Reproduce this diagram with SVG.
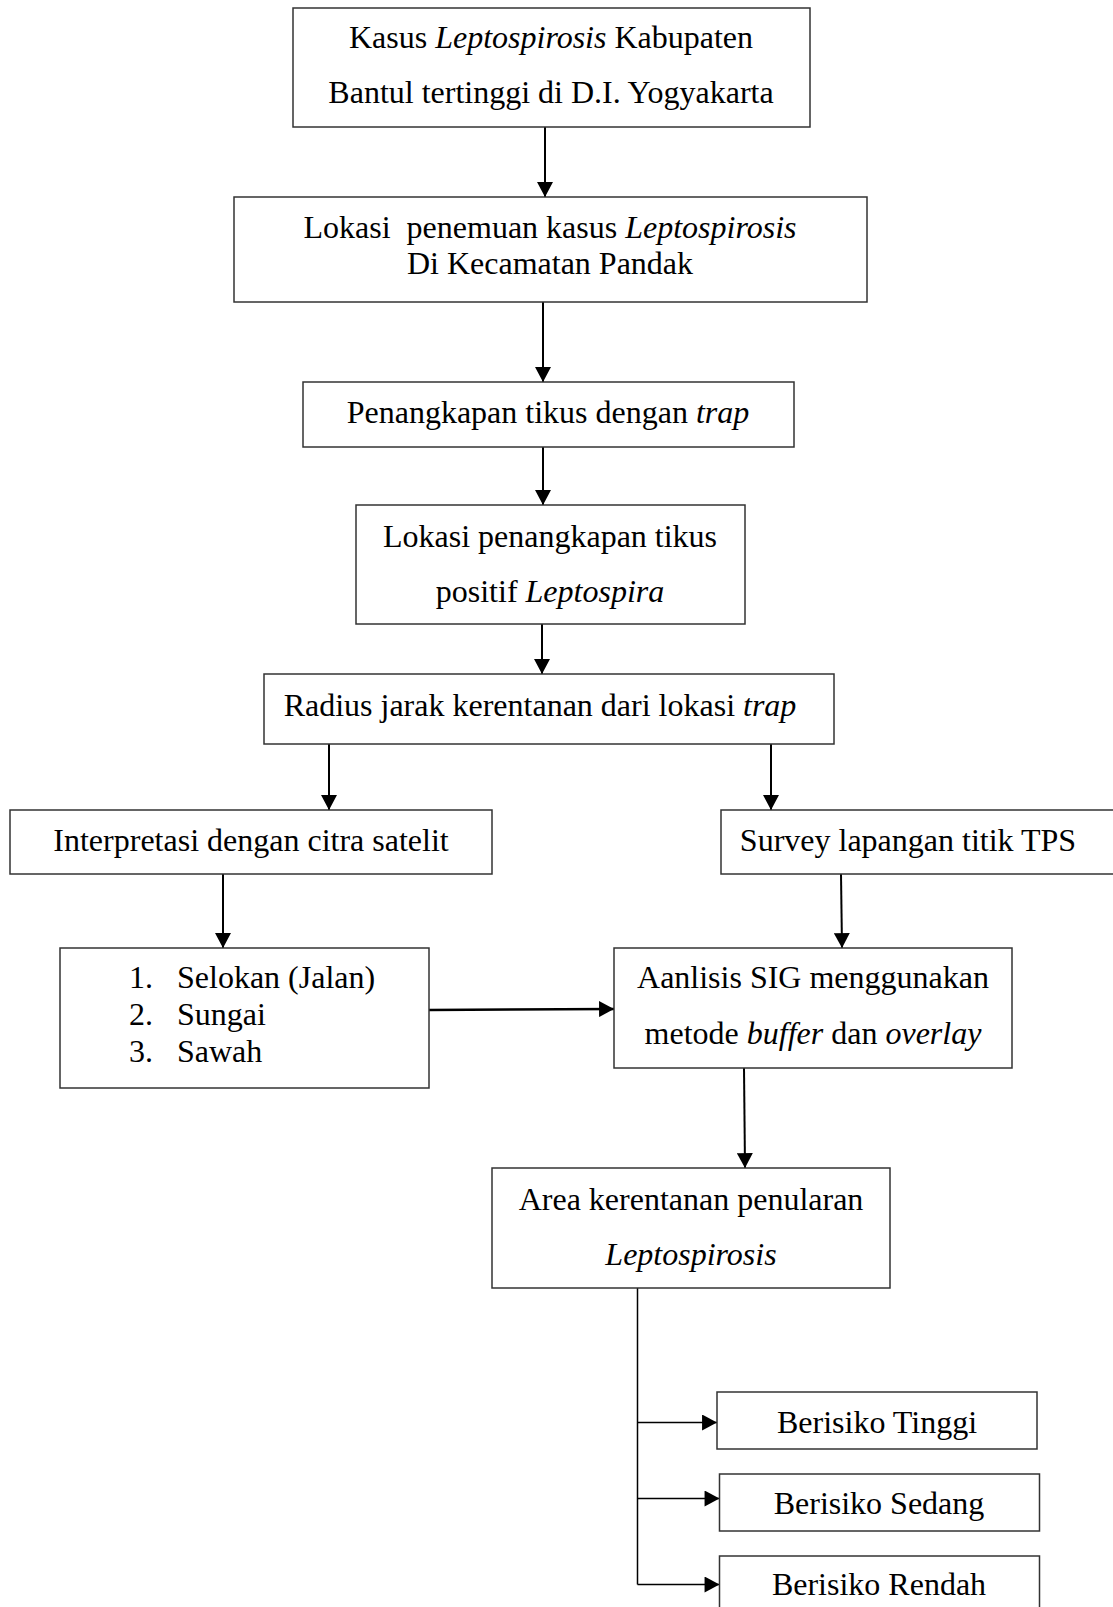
<svg xmlns="http://www.w3.org/2000/svg" width="1113" height="1607" viewBox="0 0 1113 1607">
<style>
.box{fill:#fff;stroke:#333;stroke-width:1.5}
.t{font-family:"Liberation Serif","Times New Roman",serif;font-size:32px;fill:#000}
.c{text-anchor:middle}
.i{font-style:italic}
.ln{fill:none;stroke:#000;stroke-width:2}
.thin{fill:none;stroke:#000;stroke-width:1.5}
</style>
<defs>
<marker id="ah" markerUnits="userSpaceOnUse" markerWidth="16" markerHeight="16" viewBox="0 0 14 15" refX="14" refY="7.5" orient="auto">
<path d="M0,0 L14,7.5 L0,15 Z" fill="#000"/>
</marker>
</defs>
<rect width="1113" height="1607" fill="#fff"/>
<g id="connectors">
<line class="ln" x1="545" y1="127" x2="545" y2="197" marker-end="url(#ah)"/>
<line class="ln" x1="543" y1="302" x2="543" y2="382" marker-end="url(#ah)"/>
<line class="ln" x1="543" y1="447" x2="543" y2="505" marker-end="url(#ah)"/>
<line class="ln" x1="542" y1="624" x2="542" y2="674" marker-end="url(#ah)"/>
<line class="ln" x1="329" y1="744" x2="329" y2="810" marker-end="url(#ah)"/>
<line class="ln" x1="771" y1="744" x2="771" y2="810" marker-end="url(#ah)"/>
<line class="ln" x1="223" y1="874" x2="223" y2="948" marker-end="url(#ah)"/>
<line class="ln" x1="841" y1="874" x2="842" y2="948" marker-end="url(#ah)"/>
<line class="ln" x1="429" y1="1010" x2="614" y2="1009" marker-end="url(#ah)" style="stroke-width:2.5"/>
<line class="ln" x1="744" y1="1068" x2="745" y2="1168" marker-end="url(#ah)"/>
<polyline class="thin" points="637.5,1288 637.5,1584.5"/>
<line class="thin" x1="637.5" y1="1422.5" x2="717" y2="1422.5" marker-end="url(#ah)"/>
<line class="thin" x1="637.5" y1="1498.5" x2="719.5" y2="1498.5" marker-end="url(#ah)"/>
<line class="thin" x1="637.5" y1="1584.5" x2="719.5" y2="1584.5" marker-end="url(#ah)"/>
</g>
<g id="n1">
<rect class="box" x="293" y="8" width="517" height="119"/>
<text class="t c" x="551" y="48">Kasus <tspan class="i">Leptospirosis</tspan> Kabupaten</text>
<text class="t c" x="551" y="103">Bantul tertinggi di D.I. Yogyakarta</text>
</g>
<g id="n2">
<rect class="box" x="234" y="197" width="633" height="105"/>
<text class="t c" x="550" y="238" xml:space="preserve">Lokasi  penemuan kasus <tspan class="i">Leptospirosis</tspan></text>
<text class="t c" x="550" y="274">Di Kecamatan Pandak</text>
</g>
<g id="n3">
<rect class="box" x="303" y="382" width="491" height="65"/>
<text class="t c" x="548" y="423">Penangkapan tikus dengan <tspan class="i">trap</tspan></text>
</g>
<g id="n4">
<rect class="box" x="356" y="505" width="389" height="119"/>
<text class="t c" x="550" y="547">Lokasi penangkapan tikus</text>
<text class="t c" x="550" y="602">positif <tspan class="i">Leptospira</tspan></text>
</g>
<g id="n5">
<rect class="box" x="264" y="674" width="570" height="70"/>
<text class="t c" x="540" y="716">Radius jarak kerentanan dari lokasi <tspan class="i">trap</tspan></text>
</g>
<g id="n6">
<rect class="box" x="10" y="810" width="482" height="64"/>
<text class="t c" x="251" y="851">Interpretasi dengan citra satelit</text>
</g>
<g id="n7">
<rect class="box" x="721" y="810" width="400" height="64"/>
<text class="t c" x="908" y="851">Survey lapangan titik TPS</text>
</g>
<g id="n8">
<rect class="box" x="60" y="948" width="369" height="140"/>
<text class="t" x="129" y="988">1.</text>
<text class="t" x="177" y="988">Selokan (Jalan)</text>
<text class="t" x="129" y="1025">2.</text>
<text class="t" x="177" y="1025">Sungai</text>
<text class="t" x="129" y="1062">3.</text>
<text class="t" x="177" y="1062">Sawah</text>
</g>
<g id="n9">
<rect class="box" x="614" y="948" width="398" height="120"/>
<text class="t c" x="813" y="988">Aanlisis SIG menggunakan</text>
<text class="t c" x="813" y="1044">metode <tspan class="i">buffer</tspan> dan <tspan class="i">overlay</tspan></text>
</g>
<g id="n10">
<rect class="box" x="492" y="1168" width="398" height="120"/>
<text class="t c" x="691" y="1210">Area kerentanan penularan</text>
<text class="t c i" x="691" y="1265">Leptospirosis</text>
</g>
<g id="n11">
<rect class="box" x="717" y="1392" width="320" height="57"/>
<text class="t c" x="877" y="1433">Berisiko Tinggi</text>
</g>
<g id="n12">
<rect class="box" x="719.5" y="1474" width="320" height="57"/>
<text class="t c" x="879" y="1514">Berisiko Sedang</text>
</g>
<g id="n13">
<rect class="box" x="719.5" y="1556" width="320" height="80"/>
<text class="t c" x="879" y="1595">Berisiko Rendah</text>
</g>
</svg>
